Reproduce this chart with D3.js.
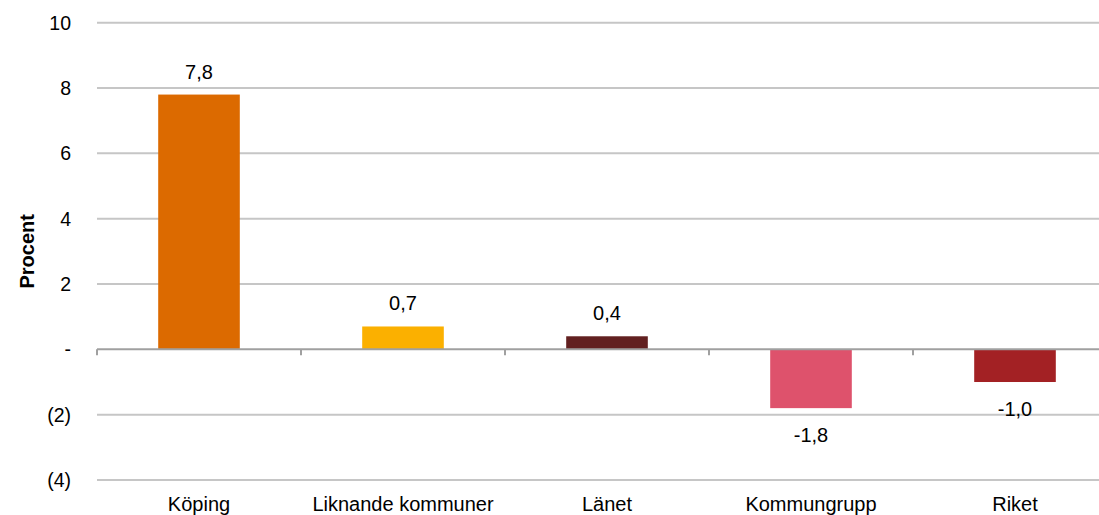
<!DOCTYPE html>
<html><head><meta charset="utf-8">
<script src="https://cdn.jsdelivr.net/npm/d3@7"></script>
<style>
html,body{margin:0;padding:0;background:#fff;overflow:hidden}
svg{display:block;font-family:"Liberation Sans",Arial,sans-serif}
</style></head><body>
<svg id="c" width="1099" height="515"></svg>
<script>
const categories = ["Köping","Liknande kommuner","Länet","Kommungrupp","Riket"];
const values = [7.8, 0.7, 0.4, -1.8, -1.0];
const valueLabels = ["7,8","0,7","0,4","-1,8","-1,0"];
const colors = ["#DC6A00","#FBB000","#622020","#DE526C","#A32124"];
const yTicks = [-4,-2,0,2,4,6,8,10];
const yTickLabels = ["(4)","(2)","-","2","4","6","8","10"];
const yTitle = "Procent";

const svg = d3.select("#c");
const pLeft = 97, pRight = 1117, pTop = 22.7, pBottom = 480;
const x = d3.scaleBand().domain(categories).range([pLeft, pRight]).padding(0);
const y = d3.scaleLinear().domain([-4, 10]).range([pBottom, pTop]);

// gridlines
svg.append("g").selectAll("line").data(yTicks.filter(d => d !== 0)).join("line")
  .attr("x1", pLeft).attr("x2", pRight)
  .attr("y1", d => y(d)).attr("y2", d => y(d))
  .attr("stroke", "#c6c6c6").attr("stroke-width", 2);

// y tick labels
svg.append("g").selectAll("text").data(yTicks).join("text")
  .attr("x", 71).attr("y", d => y(d)).attr("dy", "0.36em")
  .attr("text-anchor", "end").attr("font-size", 19.5).attr("fill", "#000")
  .text((d, i) => yTickLabels[i]);

// bars
const bw = x.bandwidth() * 0.4;
svg.append("g").selectAll("rect").data(categories).join("rect")
  .attr("x", d => x(d) + (x.bandwidth() - bw) / 2)
  .attr("width", bw)
  .attr("y", (d, i) => y(Math.max(0, values[i])))
  .attr("height", (d, i) => Math.abs(y(values[i]) - y(0)))
  .attr("fill", (d, i) => colors[i]);

// zero axis
const axis = svg.append("g");
axis.append("line").attr("x1", pLeft).attr("x2", pRight)
  .attr("y1", y(0)).attr("y2", y(0)).attr("stroke", "#a0a0a0").attr("stroke-width", 2);
axis.selectAll("line.t").data(categories).join("line").attr("class", "t")
  .attr("x1", d => x(d)).attr("x2", d => x(d))
  .attr("y1", y(0)).attr("y2", y(0) + 6)
  .attr("stroke", "#a0a0a0").attr("stroke-width", 2);

// value labels
svg.append("g").selectAll("text").data(categories).join("text")
  .attr("x", d => x(d) + x.bandwidth() / 2)
  .attr("y", (d, i) => values[i] >= 0 ? y(values[i]) - 16 : y(values[i]) + 33.5)
  .attr("text-anchor", "middle").attr("font-size", 20).attr("fill", "#000")
  .text((d, i) => valueLabels[i]);

// category labels
svg.append("g").selectAll("text").data(categories).join("text")
  .attr("x", d => x(d) + x.bandwidth() / 2).attr("y", 511)
  .attr("text-anchor", "middle").attr("font-size", 20).attr("fill", "#000")
  .text(d => d);

// y title
svg.append("text")
  .attr("transform", `translate(34,${(pTop + pBottom) / 2}) rotate(-90)`)
  .attr("text-anchor", "middle").attr("font-size", 20).attr("font-weight", "bold")
  .text(yTitle);
</script></body></html>
